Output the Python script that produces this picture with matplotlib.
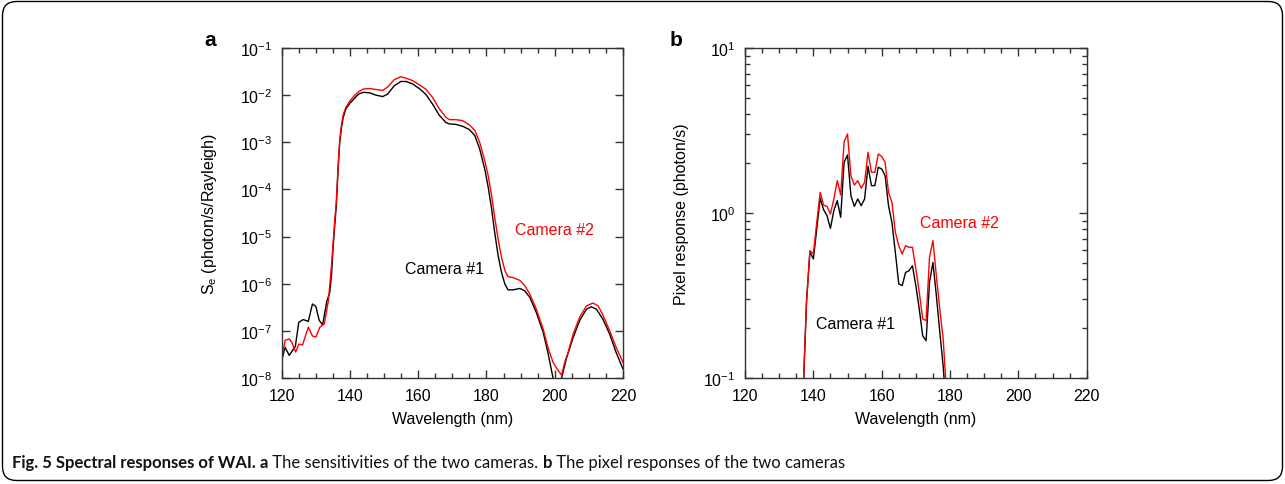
import numpy as np
import matplotlib
matplotlib.use('Agg')
import matplotlib.pyplot as plt
from matplotlib.ticker import LogLocator, NullFormatter, MultipleLocator, NullLocator
from matplotlib.patches import FancyBboxPatch

# ---------------- data ----------------
# Panel a: sensitivity S_e, stored as log10 values
wl_a_cam1 = [120, 121, 122.2, 124, 125, 126.3, 127.8, 129, 130, 131, 132, 133.2, 134.1,
             134.6, 135.0, 135.5, 136.0, 136.5, 137.0, 137.5, 138.0, 138.8, 140, 141.3,
             142.5, 143.9, 145.7, 147.6, 149.6, 151.0, 153, 154.9, 156.4, 158.3, 160.3,
             162.2, 164.2, 166.1, 168.1, 169.1, 171, 173, 175, 176.6, 178, 179.5, 180.5,
             181.5, 182.4, 183.4, 184.4, 185.4, 186.3, 187.8, 189.8, 191.2, 192.7, 194.6,
             196.6, 198, 199.5, 200.8, 202, 203.4, 205.4, 207.3, 209.3, 210.7, 212.2,
             214.1, 216.1, 218, 220]
log_se_cam1 = [-7.63, -7.35, -7.52, -7.33, -6.82, -6.76, -6.80, -6.43, -6.48, -6.78, -6.87,
               -6.38, -6.18, -5.8, -5.3, -4.8, -4.35, -3.6, -3.0, -2.7, -2.48, -2.29, -2.17,
               -2.07, -1.98, -1.94, -1.95, -2.00, -2.03, -1.98, -1.80, -1.71, -1.71, -1.76,
               -1.86, -1.98, -2.19, -2.42, -2.58, -2.61, -2.62, -2.66, -2.73, -2.86, -3.14,
               -3.57, -3.95, -4.41, -4.91, -5.40, -5.76, -6.01, -6.13, -6.13, -6.10, -6.15,
               -6.29, -6.61, -7.03, -7.46, -8.0, -8.6, -8.0, -7.59, -7.14, -6.78, -6.54,
               -6.49, -6.54, -6.75, -7.07, -7.46, -7.81]

wl_a_cam2 = [120, 121, 122.2, 123, 124.1, 125, 126.1, 127.8, 129, 130, 131.2, 132.5, 133.7,
             134.6, 135.0, 135.5, 136.0, 136.5, 137.0, 137.5, 138, 138.8, 140, 141.3, 142.5,
             143.9, 145.7, 147.6, 149.6, 151.0, 153, 154.9, 156.4, 158.3, 160.3, 162.2,
             164.2, 166.1, 168.1, 169.1, 171, 173, 175, 176.6, 178, 179.5, 180.5, 181.5,
             182.4, 183.4, 184.4, 185.4, 186.3, 187.8, 189.8, 191.2, 192.7, 194.6, 196.6,
             198, 199.5, 200.7, 202, 202.9, 203.9, 205.4, 207.3, 209.3, 211.2, 212.7,
             214.1, 216.1, 218, 220]
log_se_cam2 = [-7.6, -7.2, -7.17, -7.25, -7.45, -7.28, -7.30, -6.92, -7.11, -7.13, -6.92,
               -6.85, -6.35, -5.6, -5.2, -4.7, -4.25, -3.55, -2.95, -2.63, -2.42, -2.26,
               -2.12, -2.01, -1.93, -1.87, -1.86, -1.88, -1.90, -1.83, -1.67, -1.61, -1.64,
               -1.69, -1.78, -1.87, -2.05, -2.28, -2.47, -2.52, -2.52, -2.54, -2.63, -2.75,
               -3.0, -3.39, -3.71, -4.13, -4.59, -5.05, -5.44, -5.72, -5.85, -5.87, -5.93,
               -6.04, -6.22, -6.54, -6.96, -7.35, -7.67, -7.81, -7.94, -7.67, -7.46, -7.07,
               -6.71, -6.47, -6.41, -6.47, -6.66, -7.0, -7.35, -7.67]

# Panel b: pixel response (photon/s), stored as log10 values
wl_b = list(range(137, 180))
log_pix_cam1 = [-1.1, -0.54, -0.234, -0.279, -0.097, 0.089, 0.02, -0.016, -0.093, 0.015,
                0.075, -0.026, 0.307, 0.352, 0.105, 0.040, 0.085, 0.044, 0.085, 0.283,
                0.166, 0.166, 0.277, 0.267, 0.226, 0.044, -0.057, -0.239, -0.43, -0.44,
                -0.36, -0.35, -0.32, -0.44, -0.582, -0.744, -0.774, -0.42, -0.30, -0.50,
                -0.72, -0.93, -1.2]
log_pix_cam2 = [-1.1, -0.541, -0.228, -0.248, -0.057, 0.125, 0.048, 0.040, -0.006, 0.085,
                0.196, 0.109, 0.432, 0.479, 0.226, 0.169, 0.196, 0.15, 0.186, 0.368, 0.247,
                0.247, 0.358, 0.343, 0.307, 0.125, 0.065, -0.117, -0.198, -0.248, -0.198,
                -0.208, -0.208, -0.339, -0.48, -0.642, -0.652, -0.268, -0.167, -0.38,
                -0.582, -0.764, -1.1]

x_ticks = [120, 140, 160, 180, 200, 220]

# ---------------- style ----------------
plt.rcParams['font.family'] = ['Liberation Sans', 'DejaVu Sans']
plt.rcParams['mathtext.fontset'] = 'custom'
plt.rcParams['mathtext.rm'] = 'Liberation Sans'
plt.rcParams['mathtext.it'] = 'Liberation Sans:italic'
plt.rcParams['mathtext.bf'] = 'Liberation Sans:bold'

W, H = 1285, 485
fig = plt.figure(figsize=(W / 100, H / 100), dpi=100)

bg = fig.add_axes([0, 0, 1, 1])
bg.set_xlim(0, W)
bg.set_ylim(H, 0)
bg.axis('off')
bg.add_patch(FancyBboxPatch((2.5, 2.5), W - 5, H - 6,
                            boxstyle='round,pad=0,rounding_size=14',
                            fill=False, ec='black', lw=1.0))

BLACK = '#000000'
RED = '#ff0000'
SPINE = '#333333'
FS = 11.5


def frame(rect):
    l, t, r, b = rect
    return fig.add_axes([l / W, 1 - b / H, (r - l) / W, (b - t) / H])


def style(ax):
    ax.set_xlim(120, 220)
    ax.set_xticks(x_ticks)
    ax.xaxis.set_minor_locator(MultipleLocator(5))
    ax.tick_params(which='both', direction='in', top=True, right=True,
                   labelsize=FS, colors=SPINE, labelcolor='black', width=1.0)
    ax.tick_params(which='major', length=6, pad=7)
    ax.tick_params(which='minor', length=3.5)
    for s in ax.spines.values():
        s.set_color(SPINE)
        s.set_linewidth(1.0)
    ax.set_xlabel('Wavelength (nm)', fontsize=FS, labelpad=6)


# Panel a
axa = frame((281.7, 49, 623, 379))
axa.set_yscale('log')
axa.plot(wl_a_cam1, 10.0 ** np.array(log_se_cam1), color=BLACK, lw=1.0)
axa.plot(wl_a_cam2, 10.0 ** np.array(log_se_cam2), color=RED, lw=1.0)
axa.set_ylim(1e-8, 1e-1)
axa.yaxis.set_major_locator(LogLocator(base=10, numticks=20))
axa.yaxis.set_minor_locator(NullLocator())
style(axa)
axa.set_ylabel('S$_\\mathregular{e}$ (photon/s/Rayleigh)', fontsize=FS, labelpad=15)
axa.text(188.4, 10 ** -4.86, 'Camera #2', color=RED, fontsize=FS, va='center', ha='left')
axa.text(156.1, 10 ** -5.67, 'Camera #1', color=BLACK, fontsize=FS, va='center', ha='left')

# Panel b
axb = frame((745, 49, 1086.7, 379))
axb.set_yscale('log')
axb.plot(wl_b, 10.0 ** np.array(log_pix_cam1), color=BLACK, lw=1.0)
axb.plot(wl_b, 10.0 ** np.array(log_pix_cam2), color=RED, lw=1.0)
axb.set_ylim(1e-1, 1e1)
axb.yaxis.set_major_locator(LogLocator(base=10, numticks=10))
axb.yaxis.set_minor_locator(LogLocator(base=10, subs=np.arange(2, 10), numticks=10))
axb.yaxis.set_minor_formatter(NullFormatter())
style(axb)
axb.set_ylabel('Pixel response (photon/s)', fontsize=FS, labelpad=10)
axb.text(171.2, 10 ** -0.055, 'Camera #2', color=RED, fontsize=FS, va='center', ha='left')
axb.text(140.8, 10 ** -0.667, 'Camera #1', color=BLACK, fontsize=FS, va='center', ha='left')

# panel letters
bg.text(210, 41, 'a', fontsize=15, fontweight='bold', ha='center', va='center')
bg.text(676, 41, 'b', fontsize=15, fontweight='bold', ha='center', va='center')

# caption
cap_parts = [('Fig. 5 Spectral responses of WAI.', 'bold'),
             (' ', 'normal'),
             ('a', 'bold'),
             (' The sensitivities of the two cameras. ', 'normal'),
             ('b', 'bold'),
             (' The pixel responses of the two cameras', 'normal')]
CAP_FONT = ['Lato', 'DejaVu Sans']
CAP_FS = 12
prev = bg.text(12, 468, cap_parts[0][0], fontsize=CAP_FS, fontweight=cap_parts[0][1],
               family=CAP_FONT, va='baseline', ha='left', color='#111111')
for txt, wt in cap_parts[1:]:
    prev = bg.annotate(txt, xy=(1, 0), xycoords=prev, va='bottom', ha='left',
                       fontsize=CAP_FS, fontweight=wt, family=CAP_FONT, color='#111111')

fig.savefig('out.png', dpi=100)
